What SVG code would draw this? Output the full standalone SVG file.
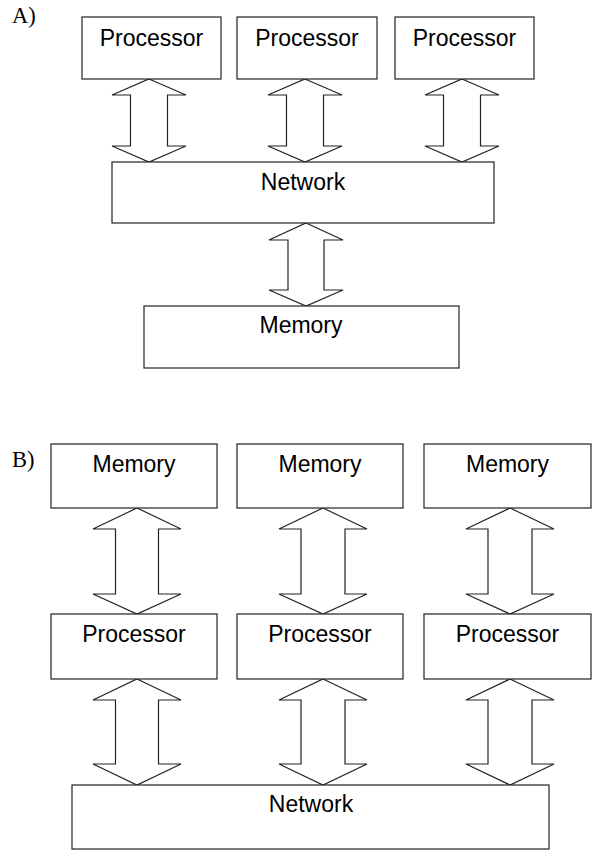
<svg xmlns="http://www.w3.org/2000/svg" width="600" height="861" viewBox="0 0 600 861">
<style>
.box{fill:#fff;stroke:#222;stroke-width:1.2}
.arr{fill:#fff;stroke:#222;stroke-width:1.2;stroke-linejoin:miter}
.t{font-family:"Liberation Sans",Arial,sans-serif;font-size:23px;fill:#000;text-anchor:middle}
.lbl{font-family:"Liberation Serif","Times New Roman",serif;font-size:22.5px;fill:#000}
</style>
<rect width="600" height="861" fill="#fff"/>
<text class="lbl" x="12" y="23">A)</text>
<text class="lbl" x="12" y="467">B)</text>
<g id="connectors">
<path class="arr" d="M149,79 L186,95 L167.5,95 L167.5,146 L186,146 L149,162 L112,146 L130.5,146 L130.5,95 L112,95 Z"/>
<path class="arr" d="M305,79 L342,95 L323.5,95 L323.5,146 L342,146 L305,162 L268,146 L286.5,146 L286.5,95 L268,95 Z"/>
<path class="arr" d="M462,79 L499,95 L480.5,95 L480.5,146 L499,146 L462,162 L425,146 L443.5,146 L443.5,95 L425,95 Z"/>
<path class="arr" d="M306,223 L343,240 L324,240 L324,290 L343,290 L306,306 L269,290 L288,290 L288,240 L269,240 Z"/>
<path class="arr" d="M137,508 L181,529 L158.5,529 L158.5,594 L181,594 L137,614 L93,594 L115.5,594 L115.5,529 L93,529 Z"/>
<path class="arr" d="M323,508 L367,529 L345,529 L345,594 L367,594 L323,614 L279,594 L301,594 L301,529 L279,529 Z"/>
<path class="arr" d="M510,508 L554,529 L532,529 L532,594 L554,594 L510,614 L466,594 L488,594 L488,529 L466,529 Z"/>
<path class="arr" d="M137,679 L181,700 L158.5,700 L158.5,764 L181,764 L137,785 L93,764 L115.5,764 L115.5,700 L93,700 Z"/>
<path class="arr" d="M323,679 L367,700 L345,700 L345,764 L367,764 L323,785 L279,764 L301,764 L301,700 L279,700 Z"/>
<path class="arr" d="M510,679 L554,700 L532,700 L532,764 L554,764 L510,785 L466,764 L488,764 L488,700 L466,700 Z"/>
</g>
<g id="a-proc1"><rect class="box" x="82" y="17" width="139" height="62"/><text class="t" x="151.5" y="46">Processor</text></g>
<g id="a-proc2"><rect class="box" x="237" y="17" width="140" height="62"/><text class="t" x="307" y="46">Processor</text></g>
<g id="a-proc3"><rect class="box" x="395" y="17" width="139" height="62"/><text class="t" x="464.5" y="46">Processor</text></g>
<g id="a-network"><rect class="box" x="112" y="162" width="382" height="61"/><text class="t" x="303" y="190">Network</text></g>
<g id="a-memory"><rect class="box" x="144" y="306" width="315" height="62"/><text class="t" x="301" y="333">Memory</text></g>
<g id="b-mem1"><rect class="box" x="51" y="444" width="166" height="64"/><text class="t" x="134" y="472">Memory</text></g>
<g id="b-mem2"><rect class="box" x="237" y="444" width="166" height="64"/><text class="t" x="320" y="472">Memory</text></g>
<g id="b-mem3"><rect class="box" x="424" y="444" width="167" height="64"/><text class="t" x="507.5" y="472">Memory</text></g>
<g id="b-proc1"><rect class="box" x="51" y="614" width="166" height="65"/><text class="t" x="134" y="642">Processor</text></g>
<g id="b-proc2"><rect class="box" x="237" y="614" width="166" height="65"/><text class="t" x="320" y="642">Processor</text></g>
<g id="b-proc3"><rect class="box" x="424" y="614" width="167" height="65"/><text class="t" x="507.5" y="642">Processor</text></g>
<g id="b-network"><rect class="box" x="72" y="785" width="477" height="64"/><text class="t" x="311" y="812">Network</text></g>
</svg>
